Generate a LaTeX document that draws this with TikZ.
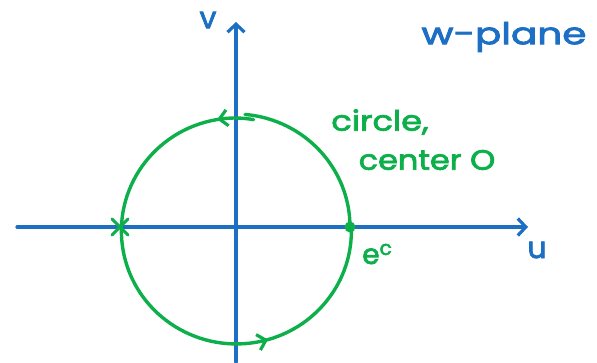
\documentclass[tikz,border=0pt]{standalone}
\usepackage{fontspec}
\setmainfont{Poppins}
\newfontfamily\handfont{Poppins}[FakeBold=2.5]
\usetikzlibrary{arrows.meta,decorations.markings}
\definecolor{penblue}{HTML}{1C6FC3}
\definecolor{pengreen}{HTML}{0CAF4A}
\begin{document}
\begin{tikzpicture}[x=1pt,y=1pt,
  axis/.style={penblue,line width=3.2pt,line cap=round},
  curve/.style={pengreen,line width=3.4pt,line cap=round},
  barb/.style={-{Straight Barb[length=8pt,width=17pt,line width=3.2pt]}},
  bluetxt/.style={text=penblue,font=\fontsize{30}{32}\handfont,inner sep=0pt},
  greentxt/.style={text=pengreen,font=\fontsize{28}{30}\handfont,inner sep=0pt,xscale=1.2,transform shape}]
\useasboundingbox (0,0) rectangle (597,362);
% axes
\coordinate (O) at (235,135);
\coordinate (uL) at (17,135);
\coordinate (uR) at (528,135);
\coordinate (vB) at (236,0);
\coordinate (vT) at (236,340);
\draw[axis,barb] (uL) -- (uR);
\draw[axis,barb] (vB) -- (vT);
% circle
\draw[curve] (O) ++(0:115 and 113) arc[start angle=0,end angle=85,x radius=115,y radius=113];
\draw[curve,postaction={decorate},
  decoration={markings,
    mark=at position 0.066 with {\arrow{Straight Barb[length=8pt,width=16pt,line width=3.2pt]}},
    mark=at position 0.735 with {\arrow{Straight Barb[length=8pt,width=16pt,line width=3.2pt]}}}]
  (O) ++(80:107 and 109) arc[start angle=80,end angle=100,x radius=107,y radius=109]
  arc[start angle=100,end angle=360,x radius=115,y radius=113];
% marks
\node[circle,fill=pengreen,inner sep=0pt,minimum size=11pt] (ec) at (350,135) {};
\node (X) at (120,135) {};
\draw[curve,line width=3pt] (X.center) ++(-8,-8) -- ++(16,16);
\draw[curve,line width=3pt] (X.center) ++(-8,8) -- ++(16,-16);
% labels
\node[bluetxt] (v) at (208,342) {v};
\node[bluetxt] (u) at (537,112) {u};
\node[bluetxt,xscale=1.3,transform shape] (wp) at (504,325) {w-plane};
\node[greentxt] (c1) at (380,240) {circle,};
\node[greentxt,xscale=0.95] (c2) at (427,202) {center O};
\node[text=pengreen,font=\fontsize{28}{30}\handfont,inner sep=0pt] (e) at (377,108) {e\raisebox{9pt}{\fontsize{20}{22}\selectfont c}};
\end{tikzpicture}
\end{document}
